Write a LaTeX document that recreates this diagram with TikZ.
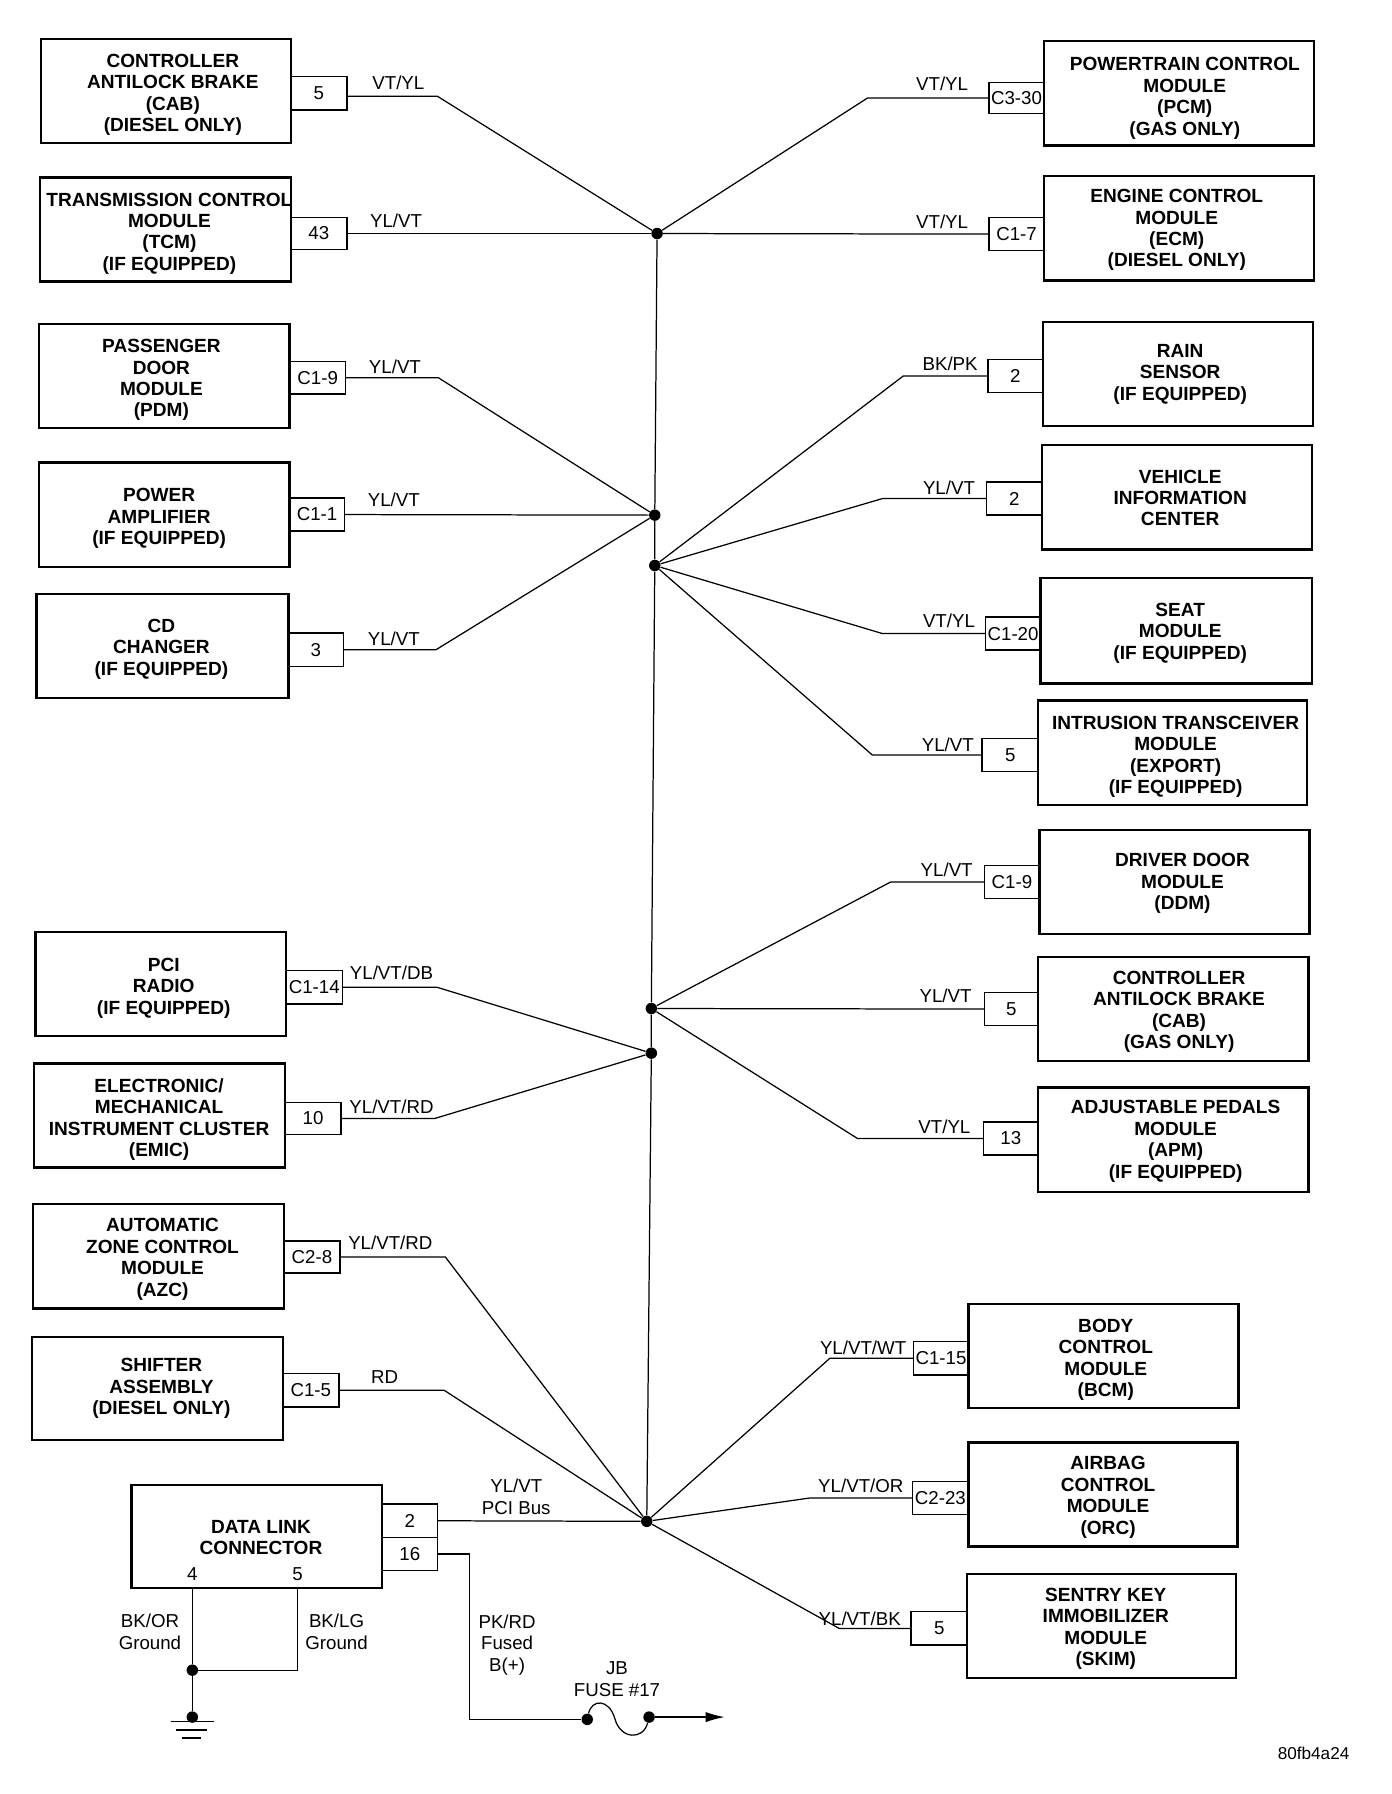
\documentclass[tikz,border=0pt]{standalone}
\usepackage{fontspec}
\setmainfont{Liberation Sans}
\usetikzlibrary{arrows.meta}
\tikzset{
  modframe/.style={draw=black,line width=1.2pt,inner sep=0pt,outer sep=0pt},
  modtext/.style={font=\bfseries\fontsize{10}{11.25}\selectfont,align=center,inner sep=0pt},
  pinframe/.style={draw=black,line width=0.75pt,inner sep=0pt,outer sep=0pt,font=\fontsize{9.8}{11}\selectfont},
  wire/.style={draw=black,line width=0.65pt},
  wlabel/.style={font=\fontsize{9.8}{11.25}\selectfont,align=center,inner sep=0pt},
  junct/.style={circle,fill=black,inner sep=0pt,minimum size=6pt},
}
\newcommand{\modbox}[8]{%
  \node[modframe,minimum width={(#4-#2)*0.6pt},minimum height={(#5-#3)*0.6pt}] (#1) at ({(#2+#4)/2},{(#3+#5)/2}) {};
  \node[modtext] (#1t) at (#6,#7) {#8};
}
\newcommand{\pinbox}[6]{%
  \node[pinframe,minimum width={(#4-#2)*0.6pt},minimum height={(#5-#3)*0.6pt}] (#1) at ({(#2+#4)/2},{(#3+#5)/2}) {#6};
}
\begin{document}
\begin{tikzpicture}[x=0.6pt,y=-0.6pt]
\useasboundingbox (0,0) rectangle (1216,1567.2);
% junctions
\node[junct] (j1) at (574,204) {};
\node[junct] (j2) at (572,450) {};
\node[junct] (j3) at (572,494) {};
\node[junct] (j4) at (569,881) {};
\node[junct] (j5) at (569,920) {};
\node[junct] (j6) at (565,1329) {};
\draw[wire] (j1) -- (j2) -- (j3) -- (j4) -- (j5) -- (j6);
% left modules
\modbox{lcab}{36}{34}{254}{125}{151}{83}{CONTROLLER\\ANTILOCK BRAKE\\(CAB)\\(DIESEL ONLY)}
\pinbox{plcab}{254}{67}{303}{96}{5}
\modbox{tcm}{35}{155}{254}{246}{148}{204}{TRANSMISSION CONTROL\\MODULE\\(TCM)\\(IF EQUIPPED)}
\pinbox{ptcm}{254}{190}{303}{218}{43}
\modbox{pdm}{34}{283}{253}{374}{141}{332}{PASSENGER\\DOOR\\MODULE\\(PDM)}
\pinbox{ppdm}{253}{316}{302}{344}{C1-9}
\modbox{amp}{34}{404}{253}{495}{139}{453}{POWER\\AMPLIFIER\\(IF EQUIPPED)}
\pinbox{pamp}{253}{435}{301}{464}{C1-1}
\modbox{cd}{32}{519}{252}{610}{141}{567}{CD\\CHANGER\\(IF EQUIPPED)}
\pinbox{pcd}{252}{553}{300}{582}{3}
\modbox{radio}{31}{814}{250}{905}{143}{863}{PCI\\RADIO\\(IF EQUIPPED)}
\pinbox{pradio}{250}{848}{299}{877}{C1-14}
\modbox{emic}{30}{929}{249}{1020}{139}{978}{ELECTRONIC/\\MECHANICAL\\INSTRUMENT CLUSTER\\(EMIC)}
\pinbox{pemic}{249}{963}{298}{991}{10}
\modbox{azc}{29}{1052}{248}{1143}{142}{1100}{AUTOMATIC\\ZONE CONTROL\\MODULE\\(AZC)}
\pinbox{pazc}{248}{1084}{297}{1112}{C2-8}
\modbox{shift}{28}{1168}{247}{1258}{141}{1213}{SHIFTER\\ASSEMBLY\\(DIESEL ONLY)}
\pinbox{pshift}{247}{1200}{296}{1229}{C1-5}
\modbox{dlc}{115}{1297}{334}{1387}{228}{1343}{DATA LINK\\CONNECTOR}
\pinbox{pdlca}{334}{1314}{382}{1343}{2}
\pinbox{pdlcb}{334}{1343}{382}{1372}{16}
\node[wlabel] (d4) at (168,1375) {4};
\node[wlabel] (d5) at (260,1375) {5};
% right modules
\modbox{pcm}{912}{36}{1148}{127}{1035}{86}{POWERTRAIN CONTROL\\MODULE\\(PCM)\\(GAS ONLY)}
\pinbox{ppcm}{864}{72}{912}{99}{C3-30}
\modbox{ecm}{912}{154}{1148}{245}{1028}{201}{ENGINE CONTROL\\MODULE\\(ECM)\\(DIESEL ONLY)}
\pinbox{pecm}{864}{190}{912}{219}{C1-7}
\modbox{rain}{911}{281}{1147}{372}{1031}{327}{RAIN\\SENSOR\\(IF EQUIPPED)}
\pinbox{prain}{863}{314}{911}{343}{2}
\modbox{vic}{910}{389}{1146}{480}{1031}{435}{VEHICLE\\INFORMATION\\CENTER}
\pinbox{pvic}{862}{421}{910}{450}{2}
\modbox{seat}{909}{505}{1146}{597}{1031}{553}{SEAT\\MODULE\\(IF EQUIPPED)}
\pinbox{pseat}{861}{539}{909}{568}{C1-20}
\modbox{itm}{907}{612}{1142}{703}{1027}{661}{INTRUSION TRANSCEIVER\\MODULE\\(EXPORT)\\(IF EQUIPPED)}
\pinbox{pitm}{858}{645}{907}{674}{5}
\modbox{ddm}{908}{725}{1144}{816}{1033}{772}{DRIVER DOOR\\MODULE\\(DDM)}
\pinbox{pddm}{860}{756}{908}{785}{C1-9}
\modbox{rcab}{907}{836}{1143}{927}{1030}{884}{CONTROLLER\\ANTILOCK BRAKE\\(CAB)\\(GAS ONLY)}
\pinbox{prcab}{860}{867}{907}{896}{5}
\modbox{apm}{907}{950}{1143}{1041}{1027}{997}{ADJUSTABLE PEDALS\\MODULE\\(APM)\\(IF EQUIPPED)}
\pinbox{papm}{859}{980}{907}{1009}{13}
\modbox{bcm}{846}{1139}{1082}{1230}{966}{1188}{BODY\\CONTROL\\MODULE\\(BCM)}
\pinbox{pbcm}{798}{1172}{846}{1201}{C1-15}
\modbox{orc}{846}{1260}{1081}{1351}{968}{1308}{AIRBAG\\CONTROL\\MODULE\\(ORC)}
\pinbox{porc}{797}{1294}{846}{1323}{C2-23}
\modbox{skim}{845}{1375}{1080}{1466}{966}{1423}{SENTRY KEY\\IMMOBILIZER\\MODULE\\(SKIM)}
\pinbox{pskim}{796}{1408}{845}{1437}{5}
% left wires
\draw[wire] ([yshift=-1.5pt]plcab.east) -- ++(79,0) -- (j1);
\draw[wire] (ptcm.east) -- (j1);
\draw[wire] (ppdm.east) -- ++(81,0) -- (j2);
\draw[wire] (pamp.east) -- (j2);
\draw[wire] (pcd.east) -- ++(81,0) -- (j2);
\draw[wire] (pradio.east) -- ++(83,0) -- (j5);
\draw[wire] (pemic.east) -- ++(82,0) -- (j5);
\draw[wire] (pazc.east) -- ++(92,0) -- (j6);
\draw[wire] (pshift.east) -- ++(92,0) -- (j6);
\draw[wire] (pdlca.east) -- (j6);
% right wires
\draw[wire] (ppcm.west) -- ++(-106,0) -- (j1);
\draw[wire] (pecm.west) -- (j1);
\draw[wire] (prain.west) -- ++(-74,0) -- (j3);
\draw[wire] (pvic.west) -- ++(-91,0) -- (j3);
\draw[wire] (pseat.west) -- ++(-90,0) -- (j3);
\draw[wire] (pitm.west) -- ++(-96,0) -- (j3);
\draw[wire] (pddm.west) -- ++(-82,0) -- (j4);
\draw[wire] (prcab.west) -- (j4);
\draw[wire] (papm.west) -- ++(-110,0) -- (j4);
\draw[wire] (pbcm.west) -- ++(-73,0) -- (j6);
\draw[wire] (porc.west) -- ++(-89,0) -- (j6);
\draw[wire] (pskim.west) -- ++(-63,0) -- (j6);
% wire labels
\node[wlabel] (l1) at (348,72) {VT/YL};
\node[wlabel] (l2) at (346,193) {YL/VT};
\node[wlabel] (l3) at (345,320) {YL/VT};
\node[wlabel] (l4) at (344,437) {YL/VT};
\node[wlabel] (l5) at (344,558) {YL/VT};
\node[wlabel] (l6) at (342,850) {YL/VT/DB};
\node[wlabel] (l7) at (342,967) {YL/VT/RD};
\node[wlabel] (l8) at (341,1086) {YL/VT/RD};
\node[wlabel] (l9) at (336,1203) {RD};
\node[wlabel] (l10) at (451,1307.5) {YL/VT\\PCI Bus};
\node[wlabel] (r1) at (823,73) {VT/YL};
\node[wlabel] (r2) at (823,194) {VT/YL};
\node[wlabel] (r3) at (830,318) {BK/PK};
\node[wlabel] (r4) at (829,426) {YL/VT};
\node[wlabel] (r5) at (829,542) {VT/YL};
\node[wlabel] (r6) at (828,651) {YL/VT};
\node[wlabel] (r7) at (827,760) {YL/VT};
\node[wlabel] (r8) at (826,870) {YL/VT};
\node[wlabel] (r9) at (825,984) {VT/YL};
\node[wlabel] (r10) at (754,1177) {YL/VT/WT};
\node[wlabel] (r11) at (752,1298) {YL/VT/OR};
\node[wlabel] (r12) at (751,1414) {YL/VT/BK};
% grounds
\node[junct] (g1) at (168,1459) {};
\node[junct] (g2) at (168,1500) {};
\coordinate (d4b) at (168,1387);
\coordinate (d5b) at (260,1387);
\draw[wire] (d4b) -- (g1) -- (g2);
\draw[wire] (d5b) |- (g1);
\draw[wire] (149,1504) -- (187,1504);
\draw[wire,line width=0.9pt] (154,1511) -- (181,1511);
\draw[wire,line width=0.9pt] (159,1518) -- (176,1518);
\node[wlabel] (bkor) at (131,1425.5) {BK/OR\\Ground};
\node[wlabel] (bklg) at (294,1425.5) {BK/LG\\Ground};
% fuse
\node[junct] (fa) at (513,1502) {};
\node[junct] (fb) at (567,1500) {};
\coordinate (arrowend) at (633,1500);
\draw[wire] (pdlcb.east) -- ++(28,0) |- (fa);
\draw[wire] (fa) .. controls (517,1484) and (532,1484) .. (537,1501) .. controls (542,1520) and (562,1520) .. (fb);
\draw[wire,-{Latex[length=10pt,width=5.4pt]}] (fb) -- (arrowend);
\node[wlabel] (pkrd) at (443,1437) {PK/RD\\Fused\\B(+)};
\node[wlabel] (jb) at (539,1467) {JB\\FUSE \#17};
\node[font=\fontsize{9}{10}\selectfont,inner sep=0pt] (code) at (1147.5,1532) {80fb4a24};
\end{tikzpicture}
\end{document}
